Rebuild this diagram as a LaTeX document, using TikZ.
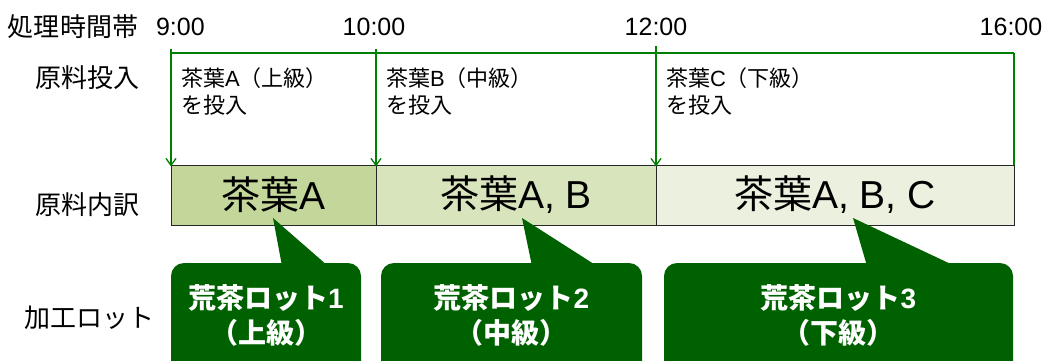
\documentclass[tikz,border=0pt]{standalone}
\usepackage{fontspec}
\setmainfont{Noto Sans CJK JP}
\newfontfamily\lat{Liberation Sans}
\usetikzlibrary{arrows.meta}
\definecolor{lgreen}{RGB}{0,128,0}
\definecolor{fillA}{RGB}{196,215,155}
\definecolor{fillB}{RGB}{216,228,188}
\definecolor{fillC}{RGB}{235,241,222}
\definecolor{dgreen}{RGB}{0,97,0}
\begin{document}
\begin{tikzpicture}[x=1pt,y=-1pt,
  every node/.style={inner sep=0pt,outer sep=0pt},
  lbl/.style={font=\fontsize{26}{30}\selectfont},
  time/.style={font=\lat\fontsize{25}{28}\selectfont},
  feed/.style={font=\fontsize{22}{27}\selectfont,align=left,anchor=west},
  seg/.style={draw=black!85,line width=0.8pt,minimum height=60pt,font=\fontsize{39}{42}\selectfont},
  gline/.style={draw=lgreen,line width=1.6pt},
  garrow/.style={gline,-{Straight Barb[length=7pt,width=10pt,line width=1.3pt]}},
  lotbox/.style={fill=dgreen,rounded corners=13pt,anchor=north west,minimum height=125pt},
  lottext/.style={text=white,font=\bfseries\fontsize{28}{35}\selectfont,align=center},
]
\useasboundingbox (0,0) rectangle (1049,360);
% header row
\node[lbl,anchor=west] (hdr) at (8,27) {処理時間帯};
\node[time,anchor=west] (t9) at (156,27) {9:00};
\node[time] (t10) at (374,27) {10:00};
\node[time] (t12) at (656,27) {12:00};
\node[time] (t16) at (1011,27) {16:00};
% row labels
\node[lbl] (r1) at (87,78) {原料投入};
\node[lbl] (r2) at (87,205) {原料内訳};
\node[lbl] (r3) at (89,318) {加工ロット};
% segments
\node[seg,fill=fillA,minimum width=205pt] (A) at (273.5,195) {\raisebox{-1pt}{茶葉{\lat A}}};
\node[seg,fill=fillB,minimum width=280pt] (B) at (516,195) {\raisebox{-1pt}{茶葉{\lat A, B}}};
\node[seg,fill=fillC,minimum width=358pt] (C) at (835,195) {\raisebox{-1pt}{茶葉{\lat A, B, C}}};
% feed lines
\coordinate (pA) at (171,49);
\coordinate (pB) at (376,49);
\coordinate (pC) at (656,46);
\coordinate (pL) at (171,53);
\coordinate (pR) at (1014,53);
\draw[gline] (pL) -- (pR);
\draw[gline] (pR) -- (C.north east);
\draw[garrow] (pA) -- ([yshift=-1.5pt]A.north west);
\draw[garrow] (pB) -- ([yshift=-1.5pt]A.north east);
\draw[garrow] (pC) -- ([yshift=-1.5pt]B.north east);
\node[feed] (fA) at (181,91.5) {茶葉{\lat A}（上級）\\を投入};
\node[feed] (fB) at (386,91.5) {茶葉{\lat B}（中級）\\を投入};
\node[feed] (fC) at (666,91.5) {茶葉{\lat C}（下級）\\を投入};
% lot callouts
\node[lotbox,minimum width=190pt] (L1) at (171,263) {};
\node[lotbox,minimum width=261pt] (L2) at (381,263) {};
\node[lotbox,minimum width=349pt] (L3) at (664,263) {};
\coordinate (tipA) at (273,218);
\coordinate (tipB) at (522,218);
\coordinate (tipC) at (853,218);
\fill[dgreen] (tipA) -- (282,266) -- (328,266) -- cycle;
\fill[dgreen] (tipB) -- (532,266) -- (597,266) -- cycle;
\fill[dgreen] (tipC) -- (867,266) -- (955,266) -- cycle;
\node[lottext] (T1) at (266,315.5) {荒茶ロット{\lat\bfseries 1}\\（上級）};
\node[lottext] (T2) at (511.5,315.5) {荒茶ロット{\lat\bfseries 2}\\（中級）};
\node[lottext] (T3) at (838.5,315.5) {荒茶ロット{\lat\bfseries 3}\\（下級）};
\end{tikzpicture}
\end{document}
